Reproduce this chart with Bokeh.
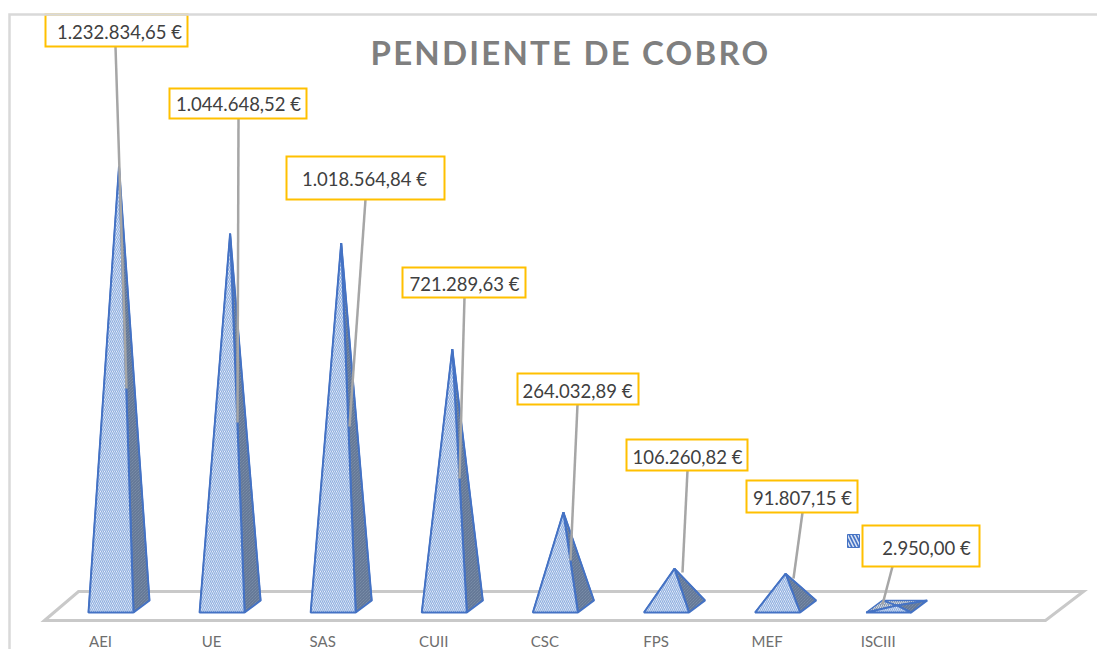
from bokeh.plotting import figure
from bokeh.models import Range1d, LinearAxis, FixedTicker, Label, CustomJS
from bokeh.core.properties import value
from bokeh.embed import file_html
from bokeh.resources import INLINE
from bokeh.events import DocumentReady
from bokeh.document import Document

# ---------- data ----------
categories = ["AEI", "UE", "SAS", "CUII", "CSC", "FPS", "MEF", "ISCIII"]
pending = [1232834.65, 1044648.52, 1018564.84, 721289.63, 264032.89, 106260.82, 91807.15, 2950.00]
value_labels = ["1.232.834,65 €", "1.044.648,52 €", "1.018.564,84 €", "721.289,63 €",
                "264.032,89 €", "106.260,82 €", "91.807,15 €", "2.950,00 €"]
title_text = "PENDIENTE DE COBRO"

# ---------- scale set-up (pixels <-> data) ----------
W, H = 1097, 649
SLOT = 111.1              # pixels per category
X0 = 100                  # x of first category
BASE = 606                # y of the value zero (centre of pyramid bases)
K = 440 / 1232834.65      # pixels per euro

def X(px): return (px - X0) / SLOT
def Y(py): return (BASE - py) / K
def dX(px): return px / SLOT
def dY(px): return px / K

p = figure(width=W, height=H, output_backend="svg", toolbar_location=None,
           x_range=Range1d(X(0), X(W)), y_range=Range1d(Y(H), Y(0)),
           x_axis_location=None, y_axis_location=None, min_border=0,
           outline_line_color=None, background_fill_color="white", border_fill_color="white")
p.grid.visible = False

# floor
p.patch([X(44), X(78), X(1083), X(1045)], [Y(620), Y(591), Y(591), Y(620)],
        fill_color=None, line_color="#C9C9C9", line_width=3, line_join="miter")

# pyramids
BLUE = "#4472C4"
FL, FR, BR, BL = dX(-12), dX(33), dX(49), dX(4)
AP = dX(18.5)
FRONT, BACK = dY(-6), dY(6)
for i, v in enumerate(pending):
    ax, ay = i + AP, v
    # hidden faces first (only visible on the flat one)
    p.patch([i + BL, i + BR, ax], [BACK, BACK, ay], fill_color="#8497B0", line_color=BLUE, line_width=1.5,
            hatch_pattern="right_diagonal_line", hatch_color="#D6DCE5", hatch_scale=4, hatch_weight=1)
    p.patch([i + FL, i + BL, ax], [FRONT, BACK, ay], fill_color="#8497B0", line_color=BLUE, line_width=1.5,
            hatch_pattern="right_diagonal_line", hatch_color="#D6DCE5", hatch_scale=4, hatch_weight=1)
    p.patch([i + FR, i + BR, ax], [FRONT, BACK, ay], fill_color="#8497B0", line_color=BLUE, line_width=2,
            hatch_pattern="left_diagonal_line", hatch_color="#5B6F8F", hatch_scale=3, hatch_weight=1)
    p.patch([i + FL, i + FR, ax], [FRONT, FRONT, ay], fill_color="#FFFFFF", line_color=BLUE, line_width=2,
            hatch_pattern="left_diagonal_line", hatch_color="#8FAFE0", hatch_scale=4, hatch_weight=1.3)

# data-label call-outs (layout, pixels)
boxes = [(45, 187, 14, 46), (169, 306, 88, 118), (286, 444, 156, 199), (402, 525, 267, 297),
         (517, 638, 373, 404), (626, 747, 439, 470), (746, 857, 480, 512), (862, 979, 525, 566)]
leaders = [((115, 46), (126, 388)), ((238, 118), (237, 422)), ((365, 199), (349, 426)), ((464, 297), (459, 478)),
           ((577, 404), (570, 560)), ((687, 470), (682, 572)), ((802, 512), (793, 578)), ((892, 566), (882, 604))]
text_x = [119, 238, 364, 464, 577, 687, 802, 926]
text_y = [31, 103, 178, 283, 390, 456, 497, 547]

for (a, b) in leaders:
    p.line([X(a[0]), X(b[0])], [Y(a[1]), Y(b[1])], line_color="#A6A6A6", line_width=2.5)
p.quad(left=[X(b[0]) for b in boxes], right=[X(b[1]) for b in boxes],
       top=[Y(b[2]) for b in boxes], bottom=[Y(b[3]) for b in boxes],
       fill_color="white", line_color="#FFC000", line_width=2, line_join="miter")
p.text(x=[X(t) for t in text_x], y=[Y(t) for t in text_y], text=value_labels,
       text_font=value("Lato"), text_font_size="18.5px", text_color="#404040",
       text_align="center", text_baseline="middle")

# small legend key
p.quad(left=[X(847)], right=[X(859)], top=[Y(534)], bottom=[Y(547)], fill_color=BLUE, line_color=BLUE,
       hatch_pattern="left_diagonal_line", hatch_color="#DAE3F3", hatch_scale=7, hatch_weight=1.5)

# chart-area border
p.line([X(9), X(9), X(W)], [Y(H), Y(14), Y(14)], line_color="#D9D9D9", line_width=2.5, line_join="miter")

# category axis
ax = LinearAxis(ticker=FixedTicker(ticks=list(range(len(categories)))),
                major_label_overrides={i: c for i, c in enumerate(categories)},
                axis_line_color=None, major_tick_line_color=None, minor_tick_line_color=None,
                major_label_text_font="Lato", major_label_text_font_size="15px",
                major_label_text_color="#6E6E6E", major_label_standoff=3,
                fixed_location=Y(622))
p.add_layout(ax, "below")

# title
p.add_layout(Label(x=X(370), y=Y(51), text=title_text, text_font="Lato", text_font_style="bold",
                   text_font_size="33px", text_color="#7F7F7F", text_align="left", text_baseline="alphabetic"))

doc = Document()
doc.add_root(p)
doc.js_on_event(DocumentReady, CustomJS(args=dict(t=title_text), code="""
function walk(r){r.querySelectorAll('*').forEach(e=>{
  if(e.tagName==='text' && e.textContent===t){e.style.letterSpacing='2.2px';}
  if(e.shadowRoot){walk(e.shadowRoot);}
});}
[0,100,300,800].forEach(d=>setTimeout(()=>walk(document),d));
"""))

open("out.html", "w").write(file_html(doc, INLINE))
